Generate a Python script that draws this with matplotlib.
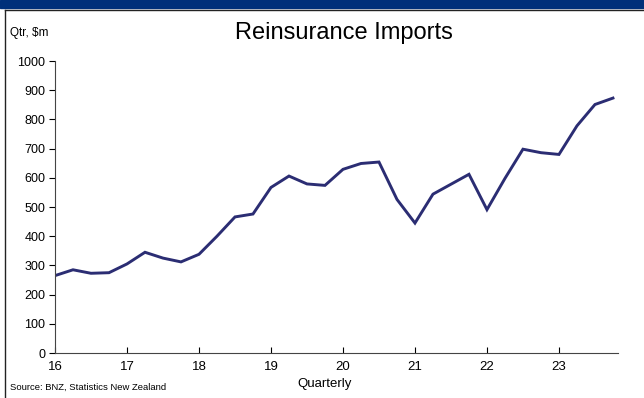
import matplotlib
matplotlib.use("Agg")
import matplotlib.pyplot as plt
import numpy as np

plt.rcParams['font.family'] = ['Liberation Sans', 'DejaVu Sans']

# quarterly values, Q1 2016 .. Q4 2023 ($m)
start_year = 16
values = [265, 285, 273, 275, 305, 345, 325, 312,
          338, 400, 466, 476, 567, 606, 579, 574,
          629, 649, 654, 526, 445, 544, 578, 612,
          491, 598, 698, 686, 680, 778, 851, 873]
year_ticks = [16, 17, 18, 19, 20, 21, 22, 23]
y_ticks = list(range(0, 1001, 100))

x = start_year + np.arange(len(values)) / 4

fig = plt.figure(figsize=(6.44, 3.98), dpi=100)

# top band and frame
fig.patches.append(plt.Rectangle((0, 1 - 8 / 398), 1, 8 / 398, transform=fig.transFigure,
                                 color='#00307A', zorder=0))
fig.add_artist(plt.Line2D([5 / 644, 1], [1 - 9.5 / 398] * 2, transform=fig.transFigure,
                          color='#222222', lw=1))
fig.add_artist(plt.Line2D([5 / 644] * 2, [0, 1 - 9.5 / 398], transform=fig.transFigure,
                          color='#222222', lw=1))

ax = fig.add_axes([55 / 644, 1 - 353 / 398, 563 / 644, 292 / 398])
ax.plot(x, values, color='#2B2D73', lw=2.1, solid_joinstyle='miter')

ax.set_xlim(16, 23.82)
ax.set_ylim(0, 1000)
ax.set_xticks(year_ticks)
ax.set_yticks(y_ticks)
ax.tick_params(axis='x', direction='in', length=4, labelsize=9.5, pad=6)
ax.tick_params(axis='y', direction='out', length=4, labelsize=9, pad=3)
ax.spines['top'].set_visible(False)
ax.spines['right'].set_visible(False)
ax.spines['left'].set_color('#444444')
ax.spines['bottom'].set_color('#444444')

fig.text(344 / 644, 1 - 33 / 398, 'Reinsurance Imports', ha='center', va='center', fontsize=17)
fig.text(10 / 644, 1 - 33 / 398, 'Qtr, $m', ha='left', va='center', fontsize=8.5)
fig.text(325 / 644, 1 - 384 / 398, 'Quarterly', ha='center', va='center', fontsize=9.5)
fig.text(10 / 644, 1 - 387 / 398, 'Source: BNZ, Statistics New Zealand', ha='left', va='center',
         fontsize=6.8)

fig.savefig('out.png', dpi=100)
